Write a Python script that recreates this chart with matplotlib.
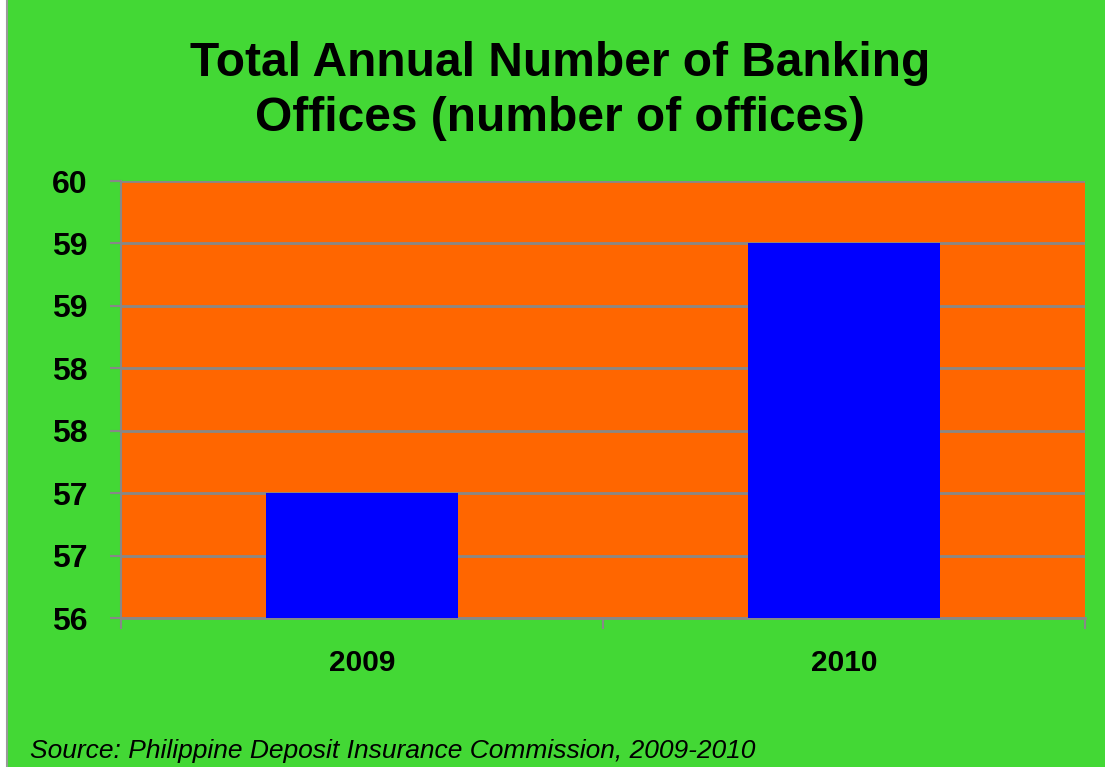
import numpy as np
import matplotlib.pyplot as plt
from matplotlib.ticker import FixedLocator, FuncFormatter

# Data
years = ['2009', '2010']
offices = [57, 59]
y_ticks = [56, 56.5, 57, 57.5, 58, 58.5, 59, 59.5]

green = '#43D835'
orange = '#FF6600'
blue = '#0000FF'
grid_gray = '#888888'

plt.rcParams['font.family'] = ['Liberation Sans', 'DejaVu Sans']

fig = plt.figure(figsize=(11.05, 7.67), dpi=100)
fig.patch.set_facecolor('white')
# green slide background with a thin gray left edge
bg = fig.add_axes([7 / 1105, 0, 1 - 7 / 1105, 1])
bg.set_facecolor(green)
bg.set_xticks([])
bg.set_yticks([])
for side, sp in bg.spines.items():
    sp.set_visible(side == 'left')
sp = bg.spines['left']
sp.set_color('#999999')
sp.set_linewidth(1.5)
bg.set_zorder(0)

# plot area: x 121..1085, y 181..618 (pixels)
W, H = 1105, 767
ax = fig.add_axes([121 / W, 1 - 618 / H, (1085 - 121) / W, (618 - 181) / H])
ax.set_zorder(1)
ax.set_facecolor(orange)

x = np.arange(len(years))
ax.bar(x, offices, width=0.4, color=blue, bottom=0, zorder=3)
ax.set_xlim(-0.5, len(years) - 0.5)
ax.set_ylim(56, 59.5)

ax.yaxis.set_major_locator(FixedLocator(y_ticks))
ax.yaxis.set_major_formatter(FuncFormatter(lambda v, p: '%d' % int(np.floor(v + 0.5))))
ax.grid(axis='y', color=grid_gray, linewidth=2, zorder=1)
ax.set_axisbelow(True)

ax.set_xticks(x)
ax.set_xticklabels(years)
ax.xaxis.set_minor_locator(FixedLocator([-0.5, 0.5, 1.5]))
ax.tick_params(axis='x', which='major', length=0, pad=22, labelsize=21.5)
ax.tick_params(axis='x', which='minor', length=8, width=1.5, color=grid_gray, direction='out')
ax.tick_params(axis='y', length=8, width=1.5, color=grid_gray, pad=16, labelsize=23)
for lab in ax.get_xticklabels() + ax.get_yticklabels():
    lab.set_fontweight('bold')

for side in ['top', 'right']:
    ax.spines[side].set_visible(False)
ax.spines['left'].set_color(grid_gray)
ax.spines['left'].set_linewidth(1.5)
ax.spines['bottom'].set_color(grid_gray)
ax.spines['bottom'].set_linewidth(2)

fig.text(560 / W, 1 - 91 / H, 'Total Annual Number of Banking\nOffices (number of offices)',
         ha='center', va='center', fontsize=34.5, fontweight='bold', linespacing=1.3)
fig.text(30 / W, 1 - 751 / H, 'Source: Philippine Deposit Insurance Commission, 2009-2010',
         ha='left', va='center', fontsize=19, style='italic')

plt.savefig('out.png', dpi=100, facecolor=fig.get_facecolor())
